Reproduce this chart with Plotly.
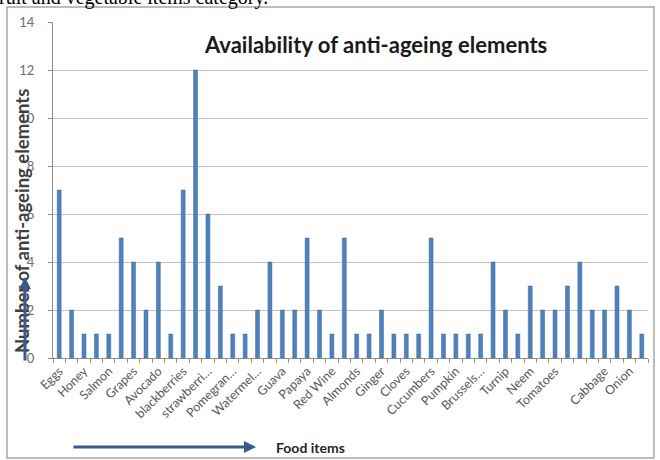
import plotly.graph_objects as go

# ---- data ----
counts = [7, 2, 1, 1, 1, 5, 4, 2, 4, 1,
          7, 12, 6, 3, 1, 1, 2, 4, 2, 2,
          5, 2, 1, 5, 1, 1, 2, 1, 1, 1,
          5, 1, 1, 1, 1, 4, 2, 1, 3, 2,
          2, 3, 4, 2, 2, 3, 2, 1]
# only every second category is labelled in the picture
food_labels = ["Eggs", "Honey", "Salmon", "Grapes", "Avocado", "blackberries",
               "strawberri…", "Pomegran…", "Watermel…", "Guava", "Papaya",
               "Red Wine", "Almonds", "Ginger", "Cloves", "Cucumbers", "Pumpkin",
               "Brussels…", "Turnip", "Neem", "Tomatoes", "", "Cabbage", "Onion"]
y_ticks = [0, 2, 4, 6, 8, 10, 12, 14]

positions = list(range(1, len(counts) + 1))
label_positions = positions[::2]

W, H = 660, 460
L, R, T, B = 53, 12, 22, 102
pw, ph = W - L - R, H - T - B


def px(x):
    return (x - L) / pw


def py(y):
    return (H - B - y) / ph


fig = go.Figure(go.Bar(
    x=positions, y=counts, width=0.32,
    marker=dict(color="#4F81BD", line=dict(color="#3C6A9E", width=0.5)),
    showlegend=False,
))

fig.update_layout(
    width=W, height=H,
    margin=dict(l=L, r=R, t=T, b=B),
    paper_bgcolor="white", plot_bgcolor="white",
    font=dict(family="Lato, sans-serif", color="#595959"),
    xaxis=dict(
        range=[0.5, len(counts) + 0.5],
        tickmode="array", tickvals=label_positions, ticktext=food_labels,
        tickangle=-45, ticks="", tickfont=dict(size=12.5, color="#595959"),
        showgrid=False, zeroline=False,
        showline=True, linecolor="#8C8C8C", linewidth=1,
        minor=dict(tickmode="array",
                   tickvals=[p - 0.5 for p in positions] + [len(counts) + 0.5],
                   ticks="outside", ticklen=4, tickcolor="#8C8C8C", showgrid=False),
    ),
    yaxis=dict(
        range=[0, 14], tickmode="array", tickvals=y_ticks,
        ticks="outside", ticklen=4, tickcolor="#8C8C8C",
        ticklabelstandoff=11,
        tickfont=dict(size=13, color="#6E6E6E"),
        showgrid=True, gridcolor="#C4C4C4", gridwidth=1,
        zeroline=False, showline=True, linecolor="#8C8C8C", linewidth=1,
    ),
)

fig.add_shape(type="rect", xref="paper", yref="paper",
              x0=px(7), x1=px(654), y0=py(458), y1=py(7),
              line=dict(color="#A6A6A6", width=1.5), fillcolor="rgba(0,0,0,0)",
              layer="below")

# chart title
fig.add_annotation(xref="paper", yref="paper", x=px(375), y=py(45),
                   text="<b>Availability of anti-ageing elements</b>", showarrow=False,
                   font=dict(family="Lato, sans-serif", size=22, color="#1A1A1A"),
                   xanchor="center", yanchor="middle")

# y axis title
fig.add_annotation(xref="paper", yref="paper", x=px(22), y=py(221),
                   text="<b>Number of anti-ageing elements</b>", showarrow=False,
                   textangle=-90,
                   font=dict(family="Lato, sans-serif", size=18.5, color="#404040"),
                   xanchor="center", yanchor="middle")

# vertical arrow over the y title
fig.add_annotation(xref="paper", yref="paper", x=px(25), y=py(277),
                   ax=0, ay=85, text="", showarrow=True,
                   arrowhead=2, arrowsize=0.8, arrowwidth=3, arrowcolor="#3A5A8C")

# horizontal arrow + x title
fig.add_annotation(xref="paper", yref="paper", x=px(256), y=py(447),
                   ax=-184, ay=0, text="", showarrow=True,
                   arrowhead=2, arrowsize=0.8, arrowwidth=3, arrowcolor="#3A5A8C")
fig.add_annotation(xref="paper", yref="paper", x=px(274), y=py(447),
                   text="<b>Food items</b>", showarrow=False,
                   font=dict(family="Lato, sans-serif", size=14, color="#262626"),
                   xanchor="left", yanchor="middle")

# cut-off document text at the very top
fig.add_annotation(xref="paper", yref="paper", x=px(-3), y=py(-3),
                   text="ruit and vegetable items category.", showarrow=False,
                   font=dict(family="Liberation Serif, serif", size=20, color="#000000"),
                   xanchor="left", yanchor="middle")

fig.write_html("out.html",
               config={"displayModeBar": False},
               post_script="document.body.style.margin='0';"
                           "document.body.style.overflow='hidden';")
